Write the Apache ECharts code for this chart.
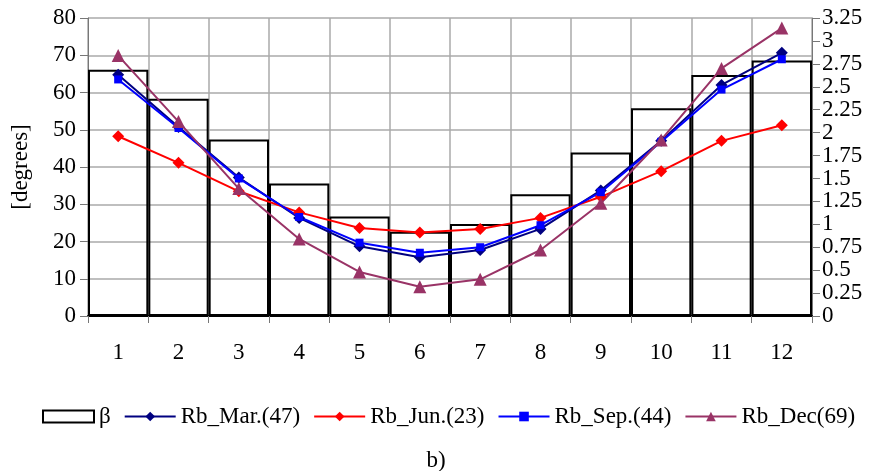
<!DOCTYPE html>
<html>
<head>
<meta charset="utf-8">
<script src="https://cdn.jsdelivr.net/npm/echarts@6/dist/echarts.min.js"></script>
<style>
  html, body { margin: 0; padding: 0; background: #fff; }
  #chart { width: 872px; height: 471px; }
</style>
</head>
<body>
<div id="chart"></div>
<script>
// months
var months = ['1', '2', '3', '4', '5', '6', '7', '8', '9', '10', '11', '12'];
// β, degrees (left axis)
var beta = [66.1, 58.3, 47.4, 35.6, 26.7, 22.6, 24.7, 32.7, 43.9, 55.8, 64.7, 68.6];
// Rb ratios (right axis)
var rbMar = [2.63, 2.06, 1.51, 1.07, 0.76, 0.64, 0.72, 0.95, 1.37, 1.91, 2.52, 2.87];
var rbJun = [1.96, 1.67, 1.36, 1.13, 0.96, 0.91, 0.95, 1.07, 1.30, 1.58, 1.91, 2.08];
var rbSep = [2.58, 2.05, 1.50, 1.08, 0.80, 0.69, 0.75, 0.99, 1.35, 1.90, 2.47, 2.80];
var rbDec = [2.84, 2.12, 1.39, 0.84, 0.48, 0.32, 0.40, 0.72, 1.23, 1.92, 2.70, 3.14];

var font = 'Liberation Serif';
var fs = 23;
var chart = echarts.init(document.getElementById('chart'));

function line(name, data, color, symbol, size) {
  return {
    name: name,
    type: 'line',
    yAxisIndex: 1,
    data: data,
    symbol: symbol,
    symbolSize: size,
    lineStyle: { color: color, width: 2 },
    itemStyle: { color: color },
    z: 5
  };
}

var option = {
  animation: false,
  textStyle: { fontFamily: font },
  title: {
    text: 'b)',
    left: 'center',
    top: 444,
    textStyle: { fontFamily: font, fontSize: fs, fontWeight: 'normal', color: '#000' }
  },
  legend: {
    top: 400,
    left: 37,
    itemGap: 13,
    itemWidth: 51,
    itemHeight: 12,
    textStyle: { fontFamily: font, fontSize: fs, color: '#000' },
    data: [
      { name: 'β', icon: 'rect' },
      'Rb_Mar.(47)', 'Rb_Jun.(23)', 'Rb_Sep.(44)', 'Rb_Dec(69)'
    ]
  },
  grid: { left: 88, right: 60, top: 18, bottom: 155 },
  xAxis: {
    type: 'category',
    data: months,
    boundaryGap: true,
    axisLine: { lineStyle: { color: '#000', width: 2 } },
    axisTick: { show: true, length: 7, lineStyle: { color: '#777' } },
    axisLabel: { color: '#000', fontSize: fs, fontFamily: font, margin: 25 },
    splitLine: { show: true, lineStyle: { color: '#aaa', width: 1.5 } }
  },
  yAxis: [
    {
      type: 'value',
      min: 0,
      max: 80,
      interval: 10,
      name: '[degrees]',
      nameLocation: 'middle',
      nameRotate: 90,
      nameGap: 56,
      nameTextStyle: { fontFamily: font, fontSize: fs, color: '#000' },
      axisLine: { show: true, lineStyle: { color: '#777', width: 1 } },
      axisTick: { show: true, length: 8, lineStyle: { color: '#777' } },
      axisLabel: { color: '#000', fontSize: fs, fontFamily: font, margin: 12 },
      splitLine: { show: true, lineStyle: { color: '#aaa', width: 1.5 } }
    },
    {
      type: 'value',
      min: 0,
      max: 3.25,
      interval: 0.25,
      position: 'right',
      axisLine: { show: true, lineStyle: { color: '#777', width: 1 } },
      axisTick: { show: true, length: 8, lineStyle: { color: '#777' } },
      axisLabel: { color: '#000', fontSize: fs, fontFamily: font, margin: 10 },
      splitLine: { show: false }
    }
  ],
  series: [
    {
      name: 'β',
      type: 'bar',
      data: beta,
      barWidth: '100%',
      itemStyle: { color: 'rgba(255,255,255,0)', borderColor: '#000', borderWidth: 2 },
      z: 3
    },
    line('Rb_Mar.(47)', rbMar, '#000080', 'diamond', 12),
    line('Rb_Jun.(23)', rbJun, '#ff0000', 'diamond', 12),
    line('Rb_Sep.(44)', rbSep, '#0000ff', 'rect', 8),
    line('Rb_Dec(69)', rbDec, '#993366', 'triangle', 13)
  ]
};

chart.setOption(option);
</script>
</body>
</html>
